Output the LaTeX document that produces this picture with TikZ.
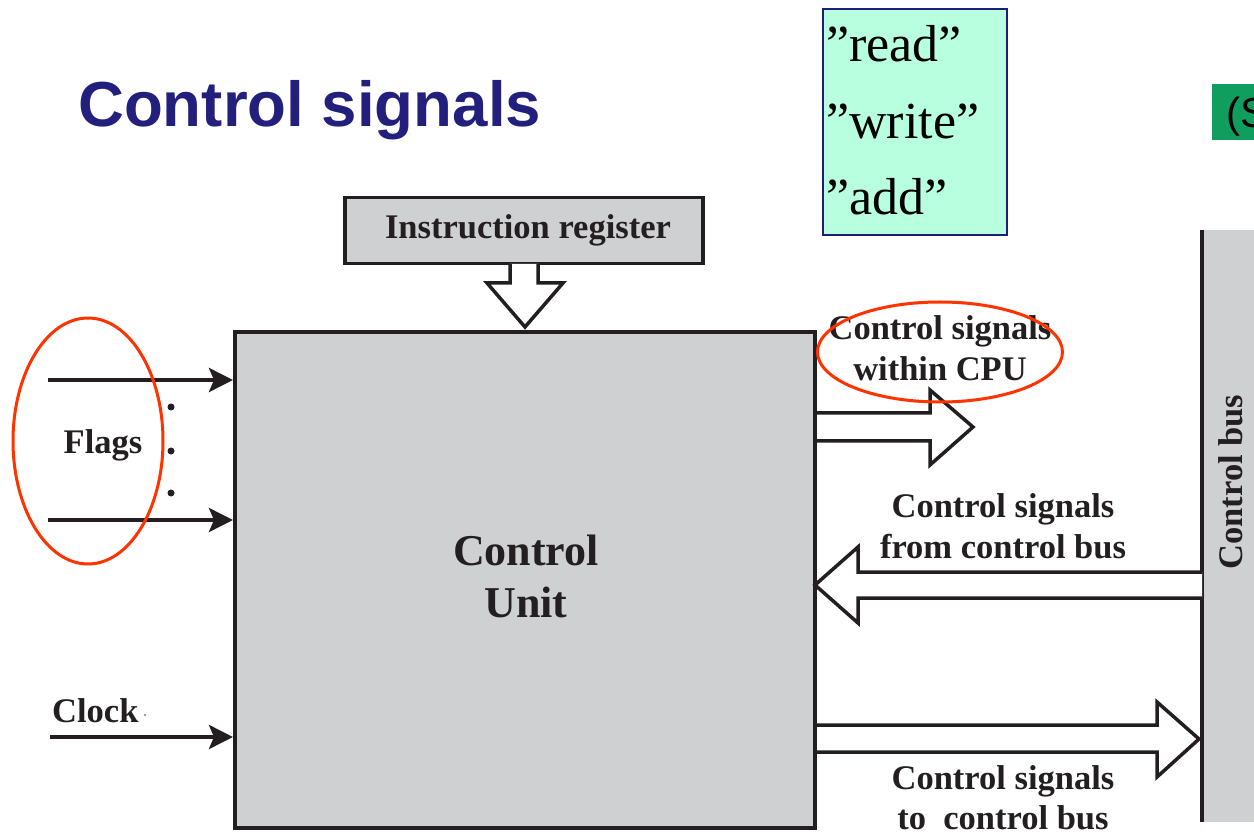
\documentclass[tikz,border=0pt]{standalone}
\usepackage{fontspec}
\setmainfont{Liberation Serif}
\newfontfamily\titlesans{Liberation Sans}
\usetikzlibrary{arrows.meta,shapes.geometric}
\definecolor{boxgray}{RGB}{207,208,210}
\definecolor{titleblue}{RGB}{34,31,125}
\definecolor{mint}{RGB}{184,255,224}
\definecolor{navyline}{RGB}{30,30,120}
\definecolor{tagGreen}{RGB}{16,158,94}
\definecolor{markred}{RGB}{255,51,0}
\definecolor{ink}{RGB}{35,31,32}
\newcommand\lbl[1]{\fontsize{#1}{#1}\selectfont\bfseries}
\begin{document}
\begin{tikzpicture}[x=1pt,y=-1pt,
  block/.style={draw=ink, line width=3.5pt, fill=boxgray, inner sep=0pt, anchor=north west},
  sig/.style={draw=ink, line width=4pt, -{Stealth[length=24pt,width=24pt,inset=5pt]}},
  hollow/.style={draw=ink, line width=3.5pt, fill=white, line join=miter},
  lab/.style={text=ink, inner sep=0pt, anchor=base, font=\lbl{34.5}},
  redring/.style={ellipse, draw=markred, line width=3pt, inner sep=0pt},
  word/.style={anchor=base west, inner sep=0pt, font=\fontsize{52}{52}\selectfont}]

\useasboundingbox (0,0) rectangle (1254,834);
\fill[white] (0,0) rectangle (1254,834);

% heading
\node[anchor=base west, inner sep=0pt, text=titleblue,
      font=\titlesans\bfseries\fontsize{63.6}{63.6}\selectfont] (title) at (78,127) {Control signals};

% example signal names
\node[draw=navyline, line width=2pt, fill=mint, anchor=north west, inner sep=0pt,
      minimum width=184pt, minimum height=226pt] (words) at (822,8) {};
\node[word] (w1) at (826,62) {”read”};
\node[word] (w2) at (826,139) {”write”};
\node[word] (w3) at (826,215) {”add”};

% green tag at the edge
\node[fill=tagGreen, anchor=north west, inner sep=0pt, minimum width=60pt, minimum height=56pt] (tag) at (1212,84) {};
\node[anchor=base west, inner sep=0pt, font=\titlesans\fontsize{42}{42}\selectfont] (tagtext) at (1226,128) {(S};

% control bus
\node[fill=boxgray, anchor=north west, inner sep=0pt, minimum width=60pt, minimum height=592pt] (bus) at (1202,230) {};
\draw[ink, line width=3.5pt] (bus.north west) -- (bus.south west);
\node[lab, anchor=center, rotate=90, font=\lbl{34.5}] (buslab) at (1231,482) {Control bus};

% instruction register
\node[block, minimum width=358pt, minimum height=66pt] (ir) at (343,196) {};
\node[lab, font=\lbl{34.5}] (irlab) at (528,239) {Instruction register};

% control unit
\node[block, line width=4pt, minimum width=580pt, minimum height=496pt] (cu) at (233,330) {};
\node[lab, font=\lbl{44}] (cu1) at (526,565) {Control};
\node[lab, font=\lbl{44}] (cu2) at (526,617) {Unit};

% IR -> CU
\draw[hollow] (510,264) -- (510,283) -- (487,283) -- (525,327) -- (563,283) -- (538,283) -- (538,264);

% flags
\coordinate (f1) at (48,380);
\coordinate (f2) at (48,520);
\draw[sig] (f1) -- (f1 -| cu.west);
\draw[sig] (f2) -- (f2 -| cu.west);
\fill[ink] (171,407) circle (3.5pt);
\fill[ink] (171,451) circle (3.5pt);
\fill[ink] (171,493) circle (3.5pt);
\node[lab, anchor=center] (flags) at (103,445) {Flags};
\node[redring, minimum width=150pt, minimum height=246pt] (flagring) at (88,441) {};

% clock
\coordinate (ck) at (50,737);
\draw[sig] (ck) -- (ck -| cu.west);
\node[lab, anchor=base west] (clock) at (52,722) {Clock};
\fill[ink!60] (145,715) circle (1.2pt);

% control signals within CPU
\draw[hollow] (cu.east |- 0,413) -- (930,413) -- (930,390) -- (973,427) -- (930,465) -- (930,441) -- (cu.east |- 0,441);
\node[lab] (in1) at (940,340) {Control signals};
\node[lab] (in2) at (940,381) {within CPU};
\node[redring, minimum width=245pt, minimum height=100pt] (inring) at (940,352) {};

% control signals from control bus
\draw[hollow] (bus.west |- 0,572) -- (858,572) -- (858,547) -- (815,585) -- (858,623) -- (858,598) -- (bus.west |- 0,598);
\node[lab] (fr1) at (1003,517) {Control signals};
\node[lab] (fr2) at (1003,558) {from control bus};

% control signals to control bus
\draw[hollow] (cu.east |- 0,725) -- (1157,725) -- (1157,702) -- (1199,739) -- (1157,777) -- (1157,752) -- (cu.east |- 0,752);
\node[lab] (to1) at (1003,789) {Control signals};
\node[lab] (to2) at (1003,829) {to\ \ control bus};
\end{tikzpicture}
\end{document}
